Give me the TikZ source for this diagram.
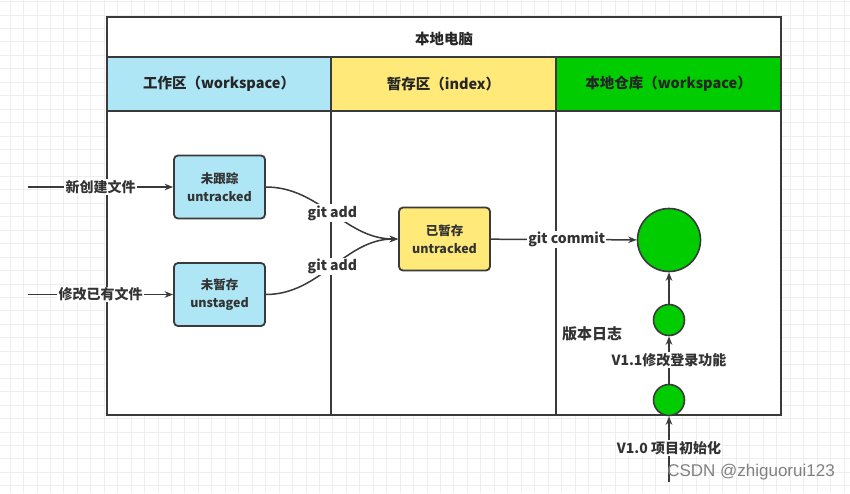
\documentclass[tikz,border=0pt]{standalone}
\usepackage{fontspec}
\setmainfont{Noto Sans CJK SC}
\newfontfamily\wmfont{Liberation Sans}
\usetikzlibrary{arrows.meta}
\definecolor{lineC}{HTML}{3A3A3A}
\definecolor{blueC}{HTML}{AEE6F5}
\definecolor{yellowC}{HTML}{FFEA79}
\definecolor{greenC}{HTML}{00CC00}
\definecolor{gridC}{HTML}{EEEEEE}
\tikzset{
  frame/.style={draw=lineC, line width=1.8pt},
  divider/.style={draw=lineC, line width=1.5pt},
  headtext/.style={font=\bfseries\fontsize{14.5}{16}\selectfont, text=black!85},
  box/.style={draw=lineC, line width=1.8pt, rounded corners=4pt, minimum width=91pt,
    minimum height=63pt, align=center, inner sep=0pt,
    font=\bfseries\fontsize{12.5}{18}\selectfont, text=black!80},
  ver/.style={circle, draw=lineC, line width=1.6pt, fill=greenC, inner sep=0pt},
  arr/.style={draw=lineC, line width=1.5pt, -{Stealth[length=8.5pt,width=6.5pt]}},
  lab/.style={fill=white, inner sep=1.2pt, font=\bfseries\fontsize{14}{16}\selectfont, text=black!80},
}
\begin{document}
\begin{tikzpicture}[x=1pt,y=-1pt]
\useasboundingbox (0,0) rectangle (850,493);
\clip (0,0) rectangle (850,493);
\fill[white] (0,0) rectangle (850,493);
\foreach \i in {0,...,63} \draw[gridC, line width=0.8pt] ({10+13.45*\i},0) -- ({10+13.45*\i},493);
\foreach \j in {0,...,37} \draw[gridC, line width=0.8pt] (0,{1.5+13.45*\j}) -- (850,{1.5+13.45*\j});
% frame
\fill[white] (107,17) rectangle (781,415);
\fill[blueC] (107,57) rectangle (331,111);
\fill[yellowC] (331,57) rectangle (556,111);
\fill[greenC] (556,57) rectangle (781,111);
\draw[divider] (107,57) -- (781,57);
\draw[divider] (107,111) -- (781,111);
\draw[divider] (331,57) -- (331,415);
\draw[divider] (556,57) -- (556,415);
\draw[frame] (107,17) rectangle (781,415);
\node[headtext] (title) at (444,39) {本地电脑};
\node[headtext] (h1) at (219,84) {工作区（workspace）};
\node[headtext] (h2) at (443.5,84) {暂存区（index）};
\node[headtext] (h3) at (668.5,84) {本地仓库（workspace）};
% nodes
\node[box, fill=blueC] (untracked) at (219.5,187) {未跟踪\\untracked};
\node[box, fill=blueC] (unstaged) at (219.5,294.5) {未暂存\\unstaged};
\node[box, fill=yellowC] (staged) at (444.5,239) {已暂存\\untracked};
\node[ver, minimum size=63pt] (head) at (669,240) {};
\node[ver, minimum size=31pt] (v11) at (669,320) {};
\node[ver, minimum size=31pt] (v10) at (669,400) {};
\node[lab, fill=none, font=\bfseries\fontsize{15}{16}\selectfont] (log) at (592,334) {版本日志};
\coordinate (in1) at (28,187);
\coordinate (in2) at (28,294.5);
\coordinate (root) at (669,482);
% connectors
\draw[arr] (in1) -- node[lab] {新创建文件} (untracked);
\draw[arr] (in2) -- node[lab] {修改已有文件} (unstaged);
\draw[arr] (untracked.east) .. controls (320,187) and (345,239) .. (staged.west) node[lab, pos=0.5] {git add};
\draw[arr] (unstaged.east) .. controls (320,294.5) and (345,239) .. (staged.west) node[lab, pos=0.5] {git add};
\draw[arr] (staged) -- node[lab, pos=0.52] {git commit} (head);
\draw[arr] (v11) -- (head);
\draw[arr] (v10) -- node[lab] {V1.1修改登录功能} (v11);
\draw[arr] (root) -- node[lab, pos=0.52] {V1.0 项目初始化} (v10);
\node[font=\wmfont\fontsize{17}{19}\selectfont, text=black!50] (wm) at (751,472) {CSDN @zhiguorui123};
\end{tikzpicture}
\end{document}
